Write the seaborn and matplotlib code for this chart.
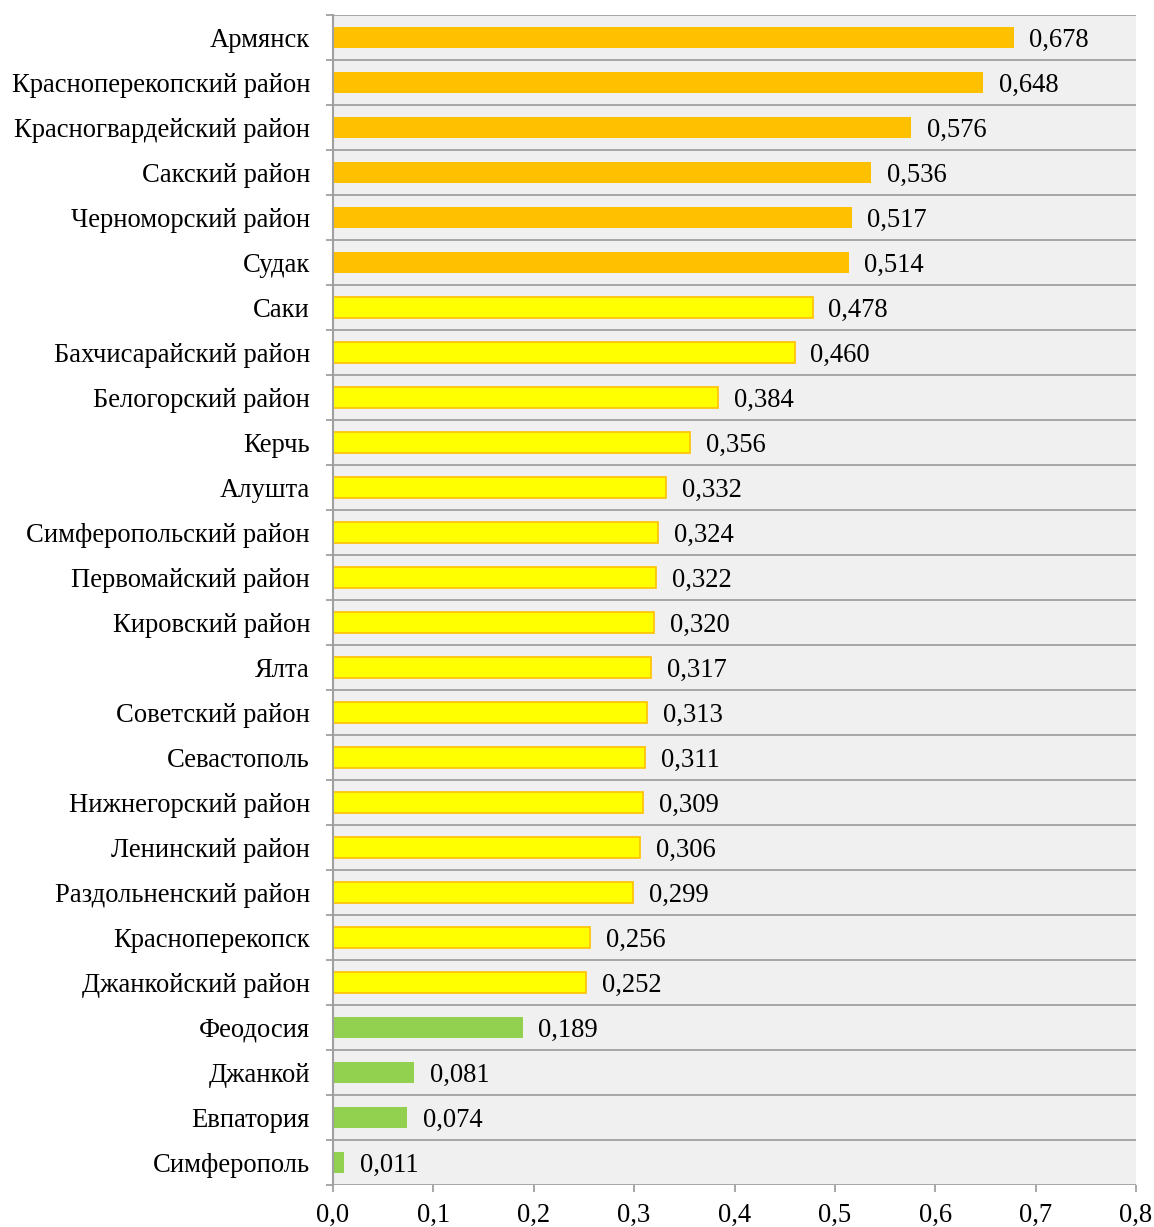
import matplotlib
matplotlib.use("Agg")
import matplotlib.pyplot as plt
import matplotlib.transforms as mtransforms
import seaborn as sns
import pandas as pd
from matplotlib.ticker import FixedLocator, FuncFormatter

# Region names, top to bottom
regions = [
    "Армянск", "Красноперекопский район", "Красногвардейский район",
    "Сакский район", "Черноморский район", "Судак", "Саки",
    "Бахчисарайский район", "Белогорский район", "Керчь", "Алушта",
    "Симферопольский район", "Первомайский район", "Кировский район",
    "Ялта", "Советский район", "Севастополь", "Нижнегорский район",
    "Ленинский район", "Раздольненский район", "Красноперекопск",
    "Джанкойский район", "Феодосия", "Джанкой", "Евпатория", "Симферополь",
]
values = [
    0.678, 0.648, 0.576, 0.536, 0.517, 0.514, 0.478, 0.460, 0.384, 0.356,
    0.332, 0.324, 0.322, 0.320, 0.317, 0.313, 0.311, 0.309, 0.306, 0.299,
    0.256, 0.252, 0.189, 0.081, 0.074, 0.011,
]
groups = ["high"] * 6 + ["medium"] * 16 + ["low"] * 4
group_colors = {"high": "#FFC000", "medium": "#FFFF00", "low": "#92D050"}
x_ticks = [0.0, 0.1, 0.2, 0.3, 0.4, 0.5, 0.6, 0.7, 0.8]

df = pd.DataFrame({"region": regions, "value": values, "group": groups})

sns.set_theme(style="white")
plt.rcParams["font.family"] = ["Liberation Serif", "DejaVu Serif"]
FS = 19.2

fig = plt.figure(figsize=(11.54, 12.27), dpi=100)
ax = fig.add_axes([333 / 1154, 1 - 1185 / 1227, (1136 - 333) / 1154, (1185 - 15) / 1227])
ax.set_facecolor("#F0F0F0")

sns.barplot(data=df, x="value", y="region", hue="group", palette=group_colors,
            dodge=False, width=0.45, legend=False, ax=ax, saturation=1,
            order=regions)

# Orange outline on the yellow bars
for patch in ax.patches:
    fc = patch.get_facecolor()
    if fc[0] > 0.99 and fc[1] > 0.99 and fc[2] < 0.05:
        patch.set_edgecolor("#FFC000")
        patch.set_linewidth(1.2)
    else:
        patch.set_linewidth(0)

n = len(regions)
ax.set_xlim(0, 0.8)
ax.set_ylim(n - 0.5, -0.5)

grid_color = "#A0A0A0"
for b in range(n + 1):
    ax.axhline(b - 0.5, color=grid_color, lw=1.3, zorder=0.5)

# Small downward shift for the category names
shift = mtransforms.ScaledTranslation(0, -1.5 / 100, fig.dpi_scale_trans)

# Value labels
for i, v in enumerate(values):
    ax.text(v + 0.0155, i, f"{v:.3f}".replace(".", ","), va="center_baseline",
            ha="left", fontsize=FS, color="black")

# Axes styling
for side in ["top", "right", "bottom"]:
    ax.spines[side].set_visible(False)
ax.spines["left"].set_color(grid_color)
ax.spines["left"].set_linewidth(1.5)

ax.set_yticks(range(n))
ax.set_yticklabels(regions, fontsize=FS, color="black")
for lbl in ax.get_yticklabels():
    lbl.set_transform(lbl.get_transform() + shift)
ax.yaxis.set_minor_locator(FixedLocator([b - 0.5 for b in range(n + 1)]))
ax.tick_params(axis="y", which="major", length=0, pad=16.5)
ax.tick_params(axis="y", which="minor", length=5, width=1.3, color=grid_color, left=True)

ax.set_xticks(x_ticks)
ax.xaxis.set_major_formatter(FuncFormatter(lambda x, _: f"{x:.1f}".replace(".", ",")))
ax.tick_params(axis="x", length=5, width=1.3, color=grid_color, labelsize=FS,
               labelcolor="black", pad=8, bottom=True)

ax.set_xlabel("")
ax.set_ylabel("")

fig.savefig("out.png", dpi=100)
